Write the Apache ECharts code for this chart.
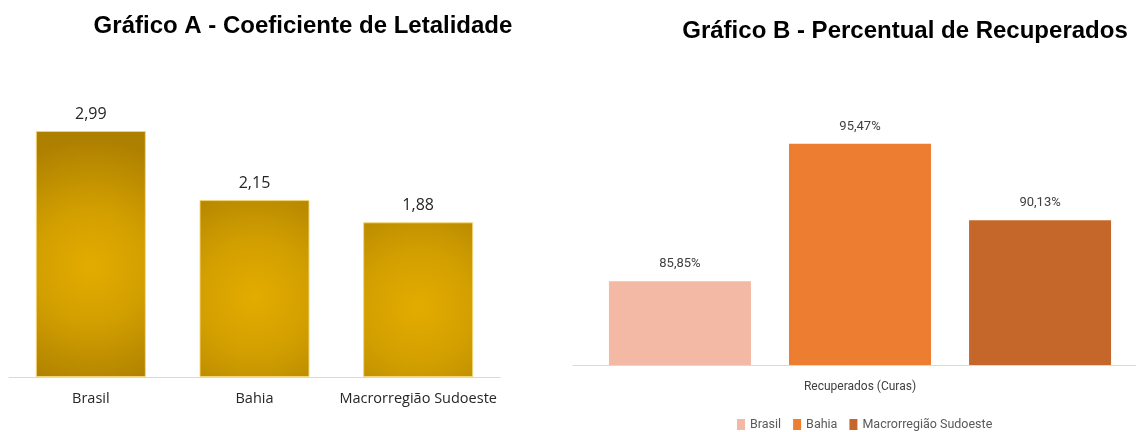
<!DOCTYPE html>
<html>
<head>
<meta charset="utf-8">
<script src="https://cdn.jsdelivr.net/npm/echarts@6/dist/echarts.min.js"></script>
<style>
  html, body { margin: 0; padding: 0; background: #fff; }
  #chart { width: 1136px; height: 432px; }
</style>
</head>
<body>
<div id="chart"></div>
<script>
// Gráfico A - coeficiente de letalidade
const regioesA = ['Brasil', 'Bahia', 'Macrorregião Sudoeste']
const letalidade = [2.99, 2.15, 1.88]

// Gráfico B - percentual de recuperados (uma categoria, uma série por região)
const categoriaB = ['Recuperados (Curas)']
const seriesB = ['Brasil', 'Bahia', 'Macrorregião Sudoeste']
const recuperados = [85.85, 95.47, 90.13]
const coresB = ['#F4B9A5', '#ED7D31', '#C5672A']

const fmt = (v, dec) => v.toFixed(dec).replace('.', ',')

const chart = echarts.init(document.getElementById('chart'))

// gradiente dourado do gráfico A (centro claro, bordas escuras)
const ouro = {
  type: 'radial', x: 0.5, y: 0.55, r: 1.15,
  colorStops: [
    { offset: 0, color: '#E4AC00' },
    { offset: 0.45, color: '#D29F00' },
    { offset: 1, color: '#AE8000' },
  ],
}

chart.setOption({
  animation: false,
  title: [
    {
      text: 'Gráfico A - Coeficiente de Letalidade',
      left: 298, top: 9, textAlign: 'center',
      textStyle: { fontFamily: 'Liberation Sans', fontWeight: 'bold', fontSize: 24, color: '#000' },
    },
    {
      text: 'Gráfico B - Percentual de Recuperados',
      left: 900, top: 14, textAlign: 'center',
      textStyle: { fontFamily: 'Liberation Sans', fontWeight: 'bold', fontSize: 24, color: '#000' },
    },
  ],
  legend: {
    data: seriesB,
    left: 732, top: 413,
    itemWidth: 8, itemHeight: 11, itemGap: 12,
    icon: 'rect',
    textStyle: { fontFamily: 'Roboto', fontSize: 12.5, color: '#595959' },
  },
  grid: [
    { left: 9, width: 491, top: 89, height: 288, outerBoundsMode: 'none' },
    { left: 573, width: 574, top: 79, height: 286, outerBoundsMode: 'none' },
  ],
  xAxis: [
    {
      gridIndex: 0, type: 'category', data: regioesA,
      axisLine: { lineStyle: { color: '#D9D9D9', width: 1 } },
      axisTick: { show: false },
      axisLabel: { interval: 0, margin: 14, fontFamily: 'Open Sans', fontSize: 14.5, color: '#262626' },
    },
    {
      gridIndex: 1, type: 'category', data: categoriaB,
      axisLine: { lineStyle: { color: '#D9D9D9', width: 1 } },
      axisTick: { show: false },
      axisLabel: { margin: 16, fontFamily: 'Roboto', fontSize: 12, color: '#404040' },
    },
  ],
  yAxis: [
    { gridIndex: 0, type: 'value', min: 0, max: 3.5, show: false },
    { gridIndex: 1, type: 'value', min: 80, max: 100, show: false },
  ],
  series: [
    {
      type: 'bar', xAxisIndex: 0, yAxisIndex: 0,
      data: letalidade,
      barWidth: 110,
      itemStyle: { color: ouro, borderColor: 'rgba(245,215,120,0.9)', borderWidth: 1 },
      label: {
        show: true, position: 'top', distance: 9,
        fontFamily: 'Open Sans', fontSize: 16, color: '#262626',
        formatter: (p) => fmt(p.value, 2),
      },
    },
    ...seriesB.map((nome, i) => ({
      name: nome,
      type: 'bar', xAxisIndex: 1, yAxisIndex: 1,
      data: [recuperados[i]],
      barWidth: 142,
      barGap: '26.8%',
      itemStyle: { color: coresB[i] },
      label: {
        show: true, position: 'top', distance: 11,
        fontFamily: 'Roboto', fontSize: 13, color: '#404040',
        formatter: (p) => fmt(p.value, 2) + '%',
      },
    })),
  ],
})
</script>
</body>
</html>
